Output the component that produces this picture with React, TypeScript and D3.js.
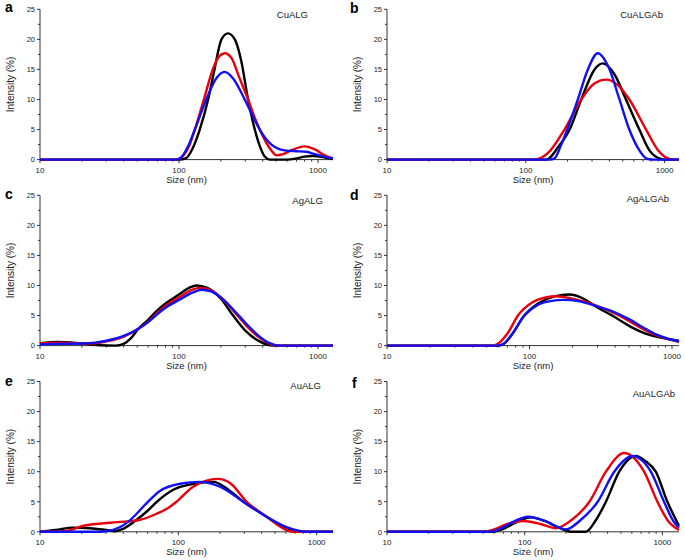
import * as d3 from "d3";

// size (nm) / intensity (%) pairs
const cuAlgBlack = [[10,0],[100,0],[112,0.2],[125,1.8],[141,5],[162,10],[180,15],[202,20],[225,21],[252,20],[280,16.5],[314,10],[351,5],[385,2],[414,0.5],[450,0],[600,0],[700,0.2],[800,0.5],[920,0.6],[1100,0.4],[1282,0.1]];
const cuAlgRed = [[10,0],[96,0],[105,0.4],[118,2.2],[130,5],[151,10],[175,15],[195,17.2],[214,17.7],[240,16.8],[270,13.8],[314,10],[350,7],[381,5],[420,3],[462,1.5],[502,0.7],[560,0.9],[650,1.6],[800,2.2],[950,1.7],[1100,0.8],[1282,0.2]];
const cuAlgBlue = [[10,0],[95,0],[103,0.3],[115,2],[130,5],[157,10],[185,13.5],[213,14.6],[245,13.5],[297,10],[340,7.2],[381,5],[420,3.5],[462,2.5],[520,1.8],[592,1.5],[700,1.4],[824,1.3],[950,0.9],[1100,0.5],[1282,0.2]];

const cuAlgAbBlack = [[10,0],[140,0],[145,0.1],[170,2],[207,5],[251,10],[313,15],[359,16],[435,14.2],[527,10],[658,5],[780,1.5],[942,0.1],[1000,0],[1270,0]];
const cuAlgAbRed = [[10,0],[115,0],[123,0.1],[150,1.5],[190,5],[251,10],[310,12.6],[379,13.3],[460,12.4],[557,10],[735,5],[900,1.5],[1110,0.05],[1270,0]];
const cuAlgAbBlue = [[10,0],[150,0],[161,0.2],[178,2.2],[199,5],[237,10],[280,15],[330,17.7],[396,15.3],[473,10],[557,5],[640,2],[755,0.1],[850,0],[1270,0]];

const agAlgBlack = [[10,0.4],[13.5,0.6],[18,0.45],[22,0.25],[27,0.05],[35,0],[40,0.3],[45,1.2],[51,2.8],[60,4.3],[68,5.6],[80,7],[100,8.5],[120,9.7],[134,10],[160,9.6],[200,7.8],[245,5],[300,2.5],[380,0.7],[475,0],[1282,0]];
const agAlgRed = [[10,0.4],[14,0.5],[20,0.35],[25,0.4],[30,0.7],[40,1.5],[51,2.8],[60,4],[68,5.2],[80,6.6],[100,8],[125,9.3],[140,9.6],[170,9.2],[200,8],[250,5.6],[300,3.5],[380,1.3],[450,0.3],[500,0],[1282,0]];
const agAlgBlue = [[10,0.2],[15,0.3],[20,0.35],[25,0.5],[30,0.8],[40,1.6],[51,2.8],[60,3.9],[68,5],[80,6.3],[100,7.6],[125,8.8],[145,9.3],[170,9],[200,8],[250,5.8],[300,3.8],[380,1.5],[450,0.4],[520,0],[1282,0]];

const agAlgAbBlack = [[10,0],[60,0],[66,0.3],[75,1.8],[92,5],[115,7],[150,8.2],[190,8.5],[240,7.8],[292,6.5],[380,5],[526,3],[652,2],[800,1.4],[1000,1],[1120,0.8]];
const agAlgAbRed = [[10,0],[55,0],[60,0.3],[70,2],[83,5],[105,7.2],[130,8],[153,8.2],[200,7.8],[308,6.5],[425,5],[560,3.4],[725,2],[900,1.2],[1120,0.6]];
const agAlgAbBlue = [[10,0],[60,0],[66,0.3],[75,1.8],[92,5],[115,6.8],[140,7.4],[175,7.6],[220,7.4],[300,6.5],[400,5.5],[499,4.4],[620,3.1],[765,1.9],[950,1.1],[1120,0.7]];

const auAlgBlack = [[10,0],[13,0.3],[17.4,0.7],[23,0.6],[30,0.3],[35,0.1],[40,0.5],[50,2],[60,3.5],[70,5],[92,7],[130,8],[179,8.3],[230,7],[295,5],[435,2.5],[550,1],[758,0],[1313,0]];
const auAlgRed = [[10,0],[15,0.1],[20.6,1],[32,1.5],[52.8,2],[69.7,3],[85,4],[97,5],[128,7.5],[194,8.8],[240,8],[312,5],[435,2.5],[550,0.8],[677,0],[1313,0]];
const auAlgBlue = [[10,0],[25,0],[30,0.1],[38,0.8],[43.5,1.7],[50,3],[58,4.6],[73.6,6.8],[103,8],[143,8.3],[200,7.5],[295,5],[435,2.5],[600,0.8],[847,0],[1313,0]];

const auAlgAbBlack = [[10,0],[59,0],[70,0.5],[85,1.5],[112,2.4],[140,1.8],[180,0.6],[223,0],[278,0],[330,2],[389,5],[486,10],[641,12.6],[750,11.8],[895,10],[1087,5],[1320,1]];
const auAlgAbRed = [[10,0],[50,0],[60,0.4],[75,1.3],[97,1.8],[130,1.3],[169,0.6],[220,2],[295,5],[389,10],[528,13.1],[620,12.3],[736,10],[920,5],[1100,1.8],[1320,0.3]];
const auAlgAbBlue = [[10,0],[55,0],[65,0.4],[80,1.5],[106,2.5],[140,1.8],[200,0.4],[250,1.8],[339,5],[447,10],[607,12.6],[700,12],[824,10],[1028,5],[1200,1.8],[1320,0.7]];

const letters = ["a", "b", "c", "d", "e", "f"];
const titles = ["CuALG", "CuALGAb", "AgALG", "AgALGAb", "AuALG", "AuALGAb"];
const xMaxes = [1282, 1270, 1282, 1120, 1313, 1320];
const seriesSets = [
  [cuAlgBlack, cuAlgRed, cuAlgBlue],
  [cuAlgAbBlack, cuAlgAbRed, cuAlgAbBlue],
  [agAlgBlack, agAlgRed, agAlgBlue],
  [agAlgAbBlack, agAlgAbRed, agAlgAbBlue],
  [auAlgBlack, auAlgRed, auAlgBlue],
  [auAlgAbBlack, auAlgAbRed, auAlgAbBlue],
];
const yMajor = [0, 5, 10, 15, 20, 25];
const yMinor = [2.5, 7.5, 12.5, 17.5, 22.5];
const xMajor = [10, 100, 1000];
const xMinor = [20, 30, 40, 50, 60, 70, 80, 90, 200, 300, 400, 500, 600, 700, 800, 900];

const colors = ["#000000", "#e8000b", "#1010f0"];
const font = "'Liberation Sans', Arial, sans-serif";

// layout
const colLeft = [40, 387];
const colRight = [333, 679];
const rowTop = [9.3, 195.3, 381.5];
const plotH = 150.3;
const titleOffset = [[25, 9], [16, 8.7], [10, 9], [10, 6.7], [12, 7], [4, 15.5]];
const letterOffset = [[5, 3], [350, 4], [5, 3.3], [350, 5], [5, 4], [352, 6.5]];

const Panel = ({ i }: { i: number }) => {
  const col = i % 2;
  const row = Math.floor(i / 2);
  const left = colLeft[col];
  const right = colRight[col];
  const top = rowTop[row];
  const bottom = top + plotH;

  const x = d3.scaleLog().domain([10, xMaxes[i]]).range([left, right]);
  const y = d3.scaleLinear().domain([0, 25]).range([bottom, top]);
  const line = d3
    .line<number[]>()
    .x(d => x(d[0]))
    .y(d => y(d[1]))
    .curve(d3.curveMonotoneX);

  return (
    <g>
      <text x={letterOffset[i][0]} y={top + letterOffset[i][1]} fontSize={14} fontWeight="bold" fontFamily={font}>
        {letters[i]}
      </text>
      <text x={right - titleOffset[i][0]} y={top + titleOffset[i][1]} fontSize={9.5} textAnchor="end" fontFamily={font} fill="#222">
        {titles[i]}
      </text>
      {/* y axis */}
      <line x1={left} x2={left} y1={top} y2={bottom} stroke="#333" strokeWidth={1} />
      {yMajor.map(v => (
        <g key={"ym" + v}>
          <line x1={left - 3} x2={left} y1={y(v)} y2={y(v)} stroke="#333" />
          <text x={left - 5} y={y(v) + 2.8} fontSize={7.5} textAnchor="end" fontFamily={font} fill="#222">
            {v}
          </text>
        </g>
      ))}
      {yMinor.map(v => (
        <line key={"yn" + v} x1={left - 2} x2={left} y1={y(v)} y2={y(v)} stroke="#333" />
      ))}
      {/* x axis */}
      <line x1={left} x2={right} y1={bottom} y2={bottom} stroke="#333" strokeWidth={1} />
      {xMajor.map(v => (
        <g key={"xm" + v}>
          <line x1={x(v)} x2={x(v)} y1={bottom} y2={bottom + 3.5} stroke="#333" />
          <text x={x(v)} y={bottom + 13} fontSize={8} textAnchor="middle" fontFamily={font} fill="#222">
            {v}
          </text>
        </g>
      ))}
      {xMinor.map(v => (
        <line key={"xn" + v} x1={x(v)} x2={x(v)} y1={bottom} y2={bottom + 2} stroke="#333" />
      ))}
      <text x={(left + right) / 2} y={bottom + 23} fontSize={9.5} textAnchor="middle" fontFamily={font} fill="#222">
        Size (nm)
      </text>
      <text
        transform={`translate(${left - 26.5},${(top + bottom) / 2}) rotate(-90)`}
        fontSize={10}
        textAnchor="middle"
        fontFamily={font}
        fill="#222"
      >
        Intensity (%)
      </text>
      {seriesSets[i].map((s, k) => (
        <path key={k} d={line(s) ?? ""} fill="none" stroke={colors[k]} strokeWidth={2.4} strokeLinejoin="round" />
      ))}
    </g>
  );
};

export default function App() {
  return (
    <svg width={685} height={560} style={{ position: "absolute", left: 0, top: 0, background: "#fff" }}>
      {letters.map((_, i) => (
        <Panel key={i} i={i} />
      ))}
    </svg>
  );
}
